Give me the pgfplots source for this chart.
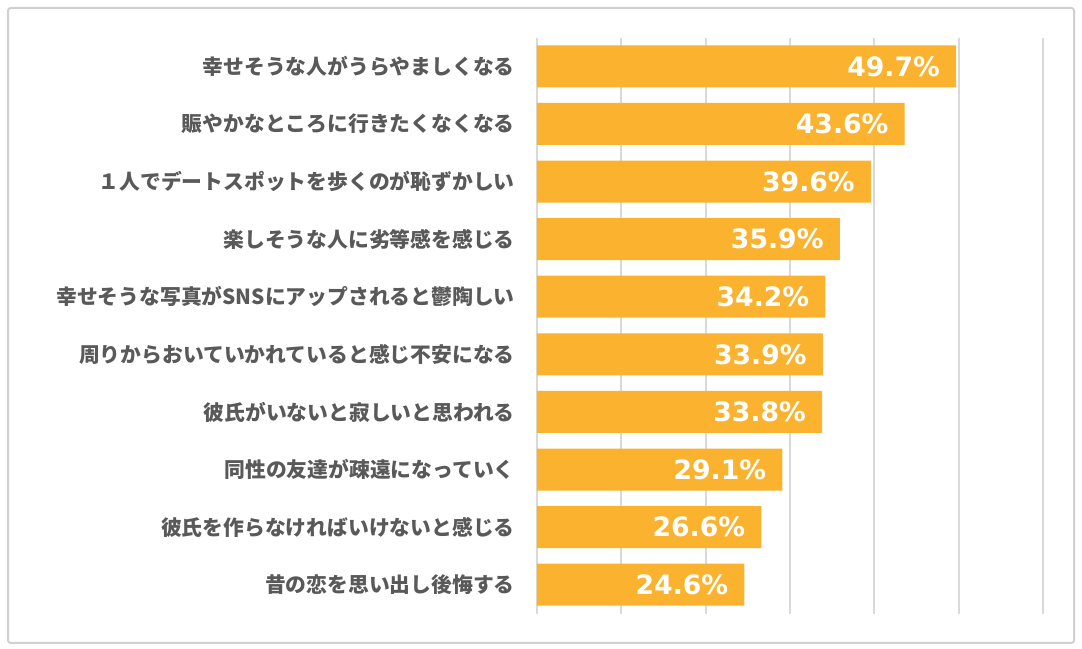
\documentclass[border=0pt]{standalone}
\usepackage{pgfplots}
\pgfplotsset{compat=1.18}
\usepackage{fontspec}
\setmainfont{DejaVu Sans}
\newfontfamily\cjk{Noto Sans CJK JP}
\definecolor{barc}{HTML}{FBB32F}
\definecolor{labc}{HTML}{595959}
\definecolor{gridc}{HTML}{D9D9D9}
\definecolor{borderc}{HTML}{D0D0D0}
\begin{document}
\begin{tikzpicture}
\path[use as bounding box, fill=white] (0,0) rectangle (811.5pt,486.75pt);
\draw[borderc, line width=1.5pt, rounded corners=2pt] (6pt,4.5pt) rectangle (805.5pt,480.75pt);
\begin{axis}[
  at={(402.75pt,26.6pt)}, anchor=south west,
  scale only axis, width=379.5pt, height=432pt,
  xmin=0, xmax=60, ymin=-0.5, ymax=9.5, y dir=reverse,
  xbar, bar width=31.5pt, bar shift=0pt,
  axis line style={draw=none},
  xtick={0,10,...,60}, xticklabels={},
  xmajorgrids, major grid style={gridc, line width=1.5pt},
  major tick length=0pt, tick style={draw=none},
  ytick={0,...,9},
  yticklabels={幸せそうな人がうらやましくなる,賑やかなところに行きたくなくなる,１人でデートスポットを歩くのが恥ずかしい,楽しそうな人に劣等感を感じる,幸せそうな写真がSNSにアップされると鬱陶しい,周りからおいていかれていると感じ不安になる,彼氏がいないと寂しいと思われる,同性の友達が疎遠になっていく,彼氏を作らなければいけないと感じる,昔の恋を思い出し後悔する},
  yticklabel style={font=\cjk\bfseries\fontsize{15.6}{18}\selectfont, text=labc, inner sep=0pt, anchor=east, xshift=-16.5pt},
  nodes near coords={\pgfmathprintnumber[fixed,fixed zerofill,precision=1,assume math mode=true]{\pgfplotspointmeta}\%},
  nodes near coords style={anchor=east, text=white, inner sep=0pt, xshift=-12pt, font=\bfseries\fontsize{20}{24}\selectfont},
  point meta=x,
  clip=false,
]
\addplot[fill=barc, draw=none] coordinates {
(49.7,0) (43.6,1) (39.6,2) (35.9,3) (34.2,4) (33.9,5) (33.8,6) (29.1,7) (26.6,8) (24.6,9)
};
\end{axis}
\end{tikzpicture}
\end{document}
